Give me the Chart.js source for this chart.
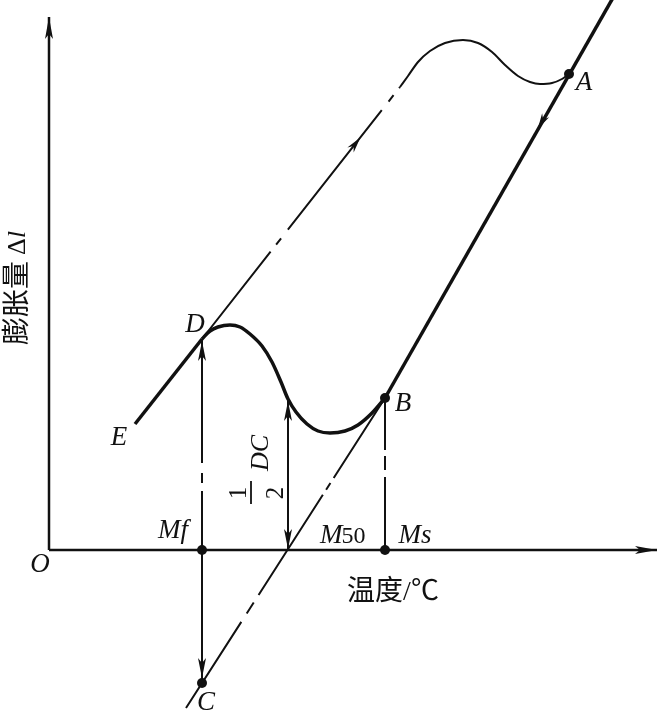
<!DOCTYPE html>
<html>
<head>
<meta charset="utf-8">
<script src="https://cdn.jsdelivr.net/npm/chart.js@4"></script>
<style>
html, body { margin: 0; padding: 0; background: #fff; }
#wrap { width: 657px; height: 713px; position: relative; }
</style>
</head>
<body>
<div id="wrap"><canvas id="chart"></canvas></div>
<script>
// Key points of the dilatometric curve, origin at O (temperature, expansion)
const pointO = [0, 0];
const pointMf = [153, 0];
const pointM50 = [239, 0];
const pointMs = [336, 0];
const pointA = [520, 476];
const pointB = [336, 152];
const pointC = [153, -133];
const pointD = [153, 211];
const pointE = [86, 126];

// ends of the straight lines
const lineABTop = [565, 554];
const lineBCEnd = [137, -158];
const heatLineEnd = [351, 463];
const axisXEnd = [608, 0];
const axisYEnd = [0, 533];

// heating curve bump (thin) ending at A
const heatCurveX = [351, 359, 369, 381, 396, 414, 429, 443, 456, 469, 481, 491, 503, 513, 520];
const heatCurveY = [463, 474, 488, 499, 507, 510, 507, 498, 485, 474, 468, 466, 467, 471, 476];

// cooling curve (thick) from D to B
const coolCurveX = [153, 161, 169, 181, 191, 201, 213, 223, 232, 239, 247, 258, 269, 281, 296, 309, 323, 336];
const coolCurveY = [211, 219, 223, 225, 223, 216, 204, 188, 168, 151, 138, 126, 119, 117, 119, 125, 137, 152];

// top of the 1/2 DC arrow sits on the cooling curve
const m50Top = [pointM50[0], coolCurveY[coolCurveX.indexOf(pointM50[0])]];

const ink = '#111';
const serif = '"Liberation Serif", "DejaVu Serif", serif';
const cjk = '"Liberation Serif", "Noto Sans CJK SC", sans-serif';

const toPts = (xs, ys) => xs.map((x, i) => ({ x: x, y: ys[i] }));
const seg = (...pts) => pts.map(p => ({ x: p[0], y: p[1] }));

function lineSet(data, width, dash, curved) {
    return {
        data: data,
        showLine: true,
        borderColor: ink,
        borderWidth: width,
        borderDash: dash || [],
        pointRadius: 0,
        fill: false,
        tension: curved ? 0.4 : 0,
        cubicInterpolationMode: curved ? 'monotone' : 'default'
    };
}

// arrowheads: tip placed at fraction `at` along from->to, pulled back `back` px
const arrows = [
    { from: pointO, to: axisYEnd, at: 1, back: 0, len: 22, half: 4 },
    { from: pointO, to: axisXEnd, at: 1, back: 0, len: 22, half: 4 },
    { from: pointD, to: heatLineEnd, at: 0.8, back: 0, len: 16, half: 4 },
    { from: pointA, to: pointB, at: 0.17, back: 0, len: 16, half: 4 },
    { from: pointMf, to: pointD, at: 1, back: 2, len: 20, half: 4 },
    { from: pointMf, to: pointC, at: 1, back: 5, len: 20, half: 4 },
    { from: pointM50, to: m50Top, at: 1, back: 2, len: 20, half: 4 },
    { from: m50Top, to: pointM50, at: 1, back: 1, len: 20, half: 4 }
];

// point labels: offsets in px from their anchor
const labels = [
    { text: 'O', at: pointO, dx: -9, dy: 22 },
    { text: 'E', at: pointE, dx: -16, dy: 21 },
    { text: 'D', at: pointD, dx: -7, dy: -7 },
    { text: 'C', at: pointC, dx: 4, dy: 27 },
    { text: 'A', at: pointA, dx: 15, dy: 16 },
    { text: 'B', at: pointB, dx: 18, dy: 13 },
    { text: 'Mf', at: pointMf, dx: -29, dy: -12 },
    { text: 'Ms', at: pointMs, dx: 30, dy: -7 }
];

const overlay = {
    id: 'overlay',
    afterDatasetsDraw(chart) {
        const { ctx, scales: { x, y } } = chart;
        const px = p => [x.getPixelForValue(p[0]), y.getPixelForValue(p[1])];
        ctx.save();
        ctx.fillStyle = ink;
        ctx.strokeStyle = ink;

        arrows.forEach(a => {
            const f = px(a.from), t = px(a.to);
            let dx = t[0] - f[0], dy = t[1] - f[1];
            const d = Math.hypot(dx, dy);
            const ux = dx / d, uy = dy / d;
            const tx = f[0] + dx * a.at - ux * a.back;
            const ty = f[1] + dy * a.at - uy * a.back;
            const nx = -uy, ny = ux;
            ctx.beginPath();
            ctx.moveTo(tx, ty);
            ctx.lineTo(tx - ux * a.len + nx * a.half, ty - uy * a.len + ny * a.half);
            ctx.lineTo(tx - ux * (a.len - 5), ty - uy * (a.len - 5));
            ctx.lineTo(tx - ux * a.len - nx * a.half, ty - uy * a.len - ny * a.half);
            ctx.closePath();
            ctx.fill();
        });

        ctx.textAlign = 'center';
        ctx.textBaseline = 'alphabetic';
        ctx.font = 'italic 27px ' + serif;
        labels.forEach(l => {
            const p = px(l.at);
            ctx.fillText(l.text, p[0] + l.dx, p[1] + l.dy);
        });

        // M50 label: italic M with upright 50
        const m = px(pointM50);
        ctx.textAlign = 'left';
        ctx.font = 'italic 27px ' + serif;
        ctx.fillText('M', m[0] + 32, m[1] - 7);
        const mw = ctx.measureText('M').width;
        ctx.font = '24px ' + serif;
        ctx.fillText('50', m[0] + 32 + mw - 1, m[1] - 7);

        // x axis title
        const s = px(pointMs);
        ctx.textAlign = 'center';
        ctx.font = '28px ' + cjk;
        ctx.fillText('温度/℃', s[0] + 8, s[1] + 50);

        // 1/2 DC, rotated along the arrow
        const rot = (txt, font, cx, cy) => {
            ctx.save();
            ctx.translate(cx, cy);
            ctx.rotate(-Math.PI / 2);
            ctx.font = font;
            ctx.fillText(txt, 0, 0);
            ctx.restore();
        };
        rot('DC', 'italic 26px ' + serif, m[0] - 20, m[1] - 97);
        rot('1', '25px ' + serif, m[0] - 42, m[1] - 57);
        rot('2', '25px ' + serif, m[0] - 5, m[1] - 57);
        ctx.lineWidth = 1.8;
        ctx.beginPath();
        ctx.moveTo(m[0] - 37, m[1] - 69);
        ctx.lineTo(m[0] - 37, m[1] - 46);
        ctx.stroke();

        // y axis title, rotated
        const o = px(pointO);
        ctx.save();
        ctx.translate(o[0] - 23, o[1] - 262);
        ctx.rotate(-Math.PI / 2);
        ctx.textAlign = 'left';
        ctx.font = '28px ' + cjk;
        const w1 = ctx.measureText('膨胀量').width;
        ctx.font = '26px ' + serif;
        const w2 = ctx.measureText('Δ').width;
        ctx.font = 'italic 26px ' + serif;
        const w3 = ctx.measureText('l').width;
        let start = -(w1 + 6 + w2 + w3) / 2;
        ctx.font = '28px ' + cjk;
        ctx.fillText('膨胀量', start, 0);
        start += w1 + 6;
        ctx.font = '26px ' + serif;
        ctx.fillText('Δ', start, -1);
        start += w2;
        ctx.font = 'italic 26px ' + serif;
        ctx.fillText('l', start, -1);
        ctx.restore();

        ctx.restore();
    }
};

const ctxChart = document.getElementById('chart').getContext('2d');
const chart = new Chart(ctxChart, {
    type: 'scatter',
    data: {
        datasets: [
            {
                data: seg(pointA, pointB, pointC, pointMf, pointMs),
                pointRadius: 5,
                pointBackgroundColor: ink,
                pointBorderWidth: 0,
                showLine: false
            },
            // axes
            lineSet(seg(pointO, axisXEnd), 2.5),
            lineSet(seg(pointO, axisYEnd), 2.5),
            // E -> D thick, then thin dash-dot heating line and bump to A
            lineSet(seg(pointE, pointD), 3.5),
            lineSet(seg(pointD, heatLineEnd), 2, [111, 9, 8, 11, 152, 11, 8, 9, 2000]),
            lineSet(toPts(heatCurveX, heatCurveY), 2, [], true),
            // A -> B thick straight line
            lineSet(seg(lineABTop, pointB), 3.5),
            // cooling curve D -> B
            lineSet(toPts(coolCurveX, coolCurveY), 3.5, [], true),
            // B -> C extension
            lineSet(seg(pointB, lineBCEnd), 2, [95, 6, 8, 6, 119, 9, 13, 10, 2000]),
            // verticals
            lineSet(seg(pointD, pointC), 2, [124, 10, 10, 8, 2000]),
            lineSet(seg(pointM50, m50Top), 2),
            lineSet(seg(pointB, pointMs), 2, [52, 6, 14, 7, 2000])
        ]
    },
    options: {
        responsive: true,
        maintainAspectRatio: false,
        animation: false,
        layout: { padding: 0, autoPadding: false },
        scales: {
            x: { type: 'linear', min: -49, max: 608, display: false },
            y: { type: 'linear', min: -163, max: 550, display: false }
        },
        plugins: {
            legend: { display: false },
            tooltip: { enabled: false }
        }
    },
    plugins: [overlay]
});
</script>
</body>
</html>
